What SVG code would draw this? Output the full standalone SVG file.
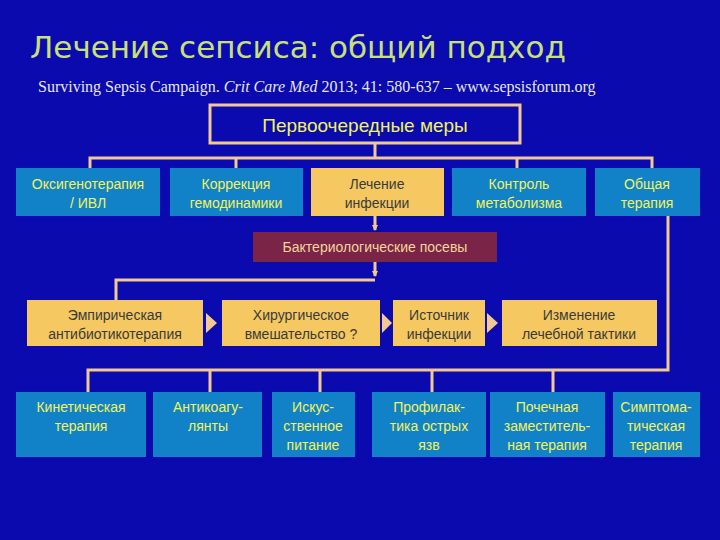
<svg xmlns="http://www.w3.org/2000/svg" width="720" height="540" viewBox="0 0 720 540">
<style>
.b{fill:#1282c8}
.o{fill:#f5c862}
.t{font-family:"Liberation Sans",Arial,sans-serif;font-size:14px;text-anchor:middle}
.y{fill:#f2f25a}
.d{fill:#3a3a3a}
.c{stroke:#f2c894;stroke-width:3;fill:none}
</style>
<defs><marker id="a" markerWidth="6" markerHeight="6" refX="5" refY="3" orient="auto" markerUnits="userSpaceOnUse" viewBox="0 0 6 6"><path d="M0,0L6,3L0,6z" fill="#f2c894"/></marker></defs>
<rect width="720" height="540" fill="#0a0aae"/>
<text x="30" y="58" font-family="'DejaVu Sans',sans-serif" font-size="31" fill="#c9e07a">Лечение сепсиса: общий подход</text>
<text x="38" y="92" font-family="'Liberation Serif',serif" font-size="16" fill="#e6e6e6">Surviving Sepsis Campaign. <tspan font-style="italic">Crit Care Med</tspan> 2013; 41: 580-637 – www.sepsisforum.org</text>
<g id="edges">
<path class="c" d="M375,143V158M90,168V158H652V168M236,158V168M517,158V168"/>
<path class="c" d="M375,216V230" marker-end="url(#a)"/>
<path class="c" d="M375,262V276" marker-end="url(#a)"/>
<path class="c" d="M375,280H116V300"/>
<path class="c" d="M668,216V370H88V392M210,370V392M320,370V392M432,370V392M553,370V392"/>
<g fill="#f2c894"><path d="M206,313L217,323L206,333z"/><path d="M382,313L392,323L382,333z"/><path d="M487,313L498,323L487,333z"/></g>
</g>
<g id="top"><rect x="210" y="105" width="310" height="38" fill="#0a0aae" stroke="#f2c894" stroke-width="3"/><text class="t y" x="365" y="132" style="font-size:19px">Первоочередные меры</text></g>
<g id="r1a"><rect class="b" x="16" y="168" width="144" height="48"/><text class="t y" x="88" y="189">Оксигенотерапия</text><text class="t y" x="88" y="208">/ ИВЛ</text></g>
<g id="r1b"><rect class="b" x="170" y="168" width="133" height="48"/><text class="t y" x="236" y="189">Коррекция</text><text class="t y" x="236" y="208">гемодинамики</text></g>
<g id="r1c"><rect class="o" x="311" y="168" width="133" height="48"/><text class="t d" x="377" y="189">Лечение</text><text class="t d" x="377" y="208">инфекции</text></g>
<g id="r1d"><rect class="b" x="452" y="168" width="134" height="48"/><text class="t y" x="519" y="189">Контроль</text><text class="t y" x="519" y="208">метаболизма</text></g>
<g id="r1e"><rect class="b" x="595" y="168" width="105" height="48"/><text class="t y" x="647" y="189">Общая</text><text class="t y" x="647" y="208">терапия</text></g>
<g id="bact"><rect x="253" y="232" width="244" height="30" fill="#7a2448"/><text class="t" fill="#f5d49a" x="375" y="252">Бактериологические посевы</text></g>
<g id="r2a"><rect class="o" x="27" y="300" width="176" height="46"/><text class="t d" x="115" y="320">Эмпирическая</text><text class="t d" x="115" y="339">антибиотикотерапия</text></g>
<g id="r2b"><rect class="o" x="222" y="300" width="158" height="46"/><text class="t d" x="301" y="320">Хирургическое</text><text class="t d" x="301" y="339">вмешательство ?</text></g>
<g id="r2c"><rect class="o" x="393" y="300" width="92" height="46"/><text class="t d" x="439" y="320">Источник</text><text class="t d" x="439" y="339">инфекции</text></g>
<g id="r2d"><rect class="o" x="502" y="300" width="155" height="46"/><text class="t d" x="579" y="320">Изменение</text><text class="t d" x="579" y="339">лечебной тактики</text></g>
<g id="r3a"><rect class="b" x="16" y="392" width="130" height="65"/><text class="t y" x="81" y="412">Кинетическая</text><text class="t y" x="81" y="431">терапия</text></g>
<g id="r3b"><rect class="b" x="153" y="392" width="109" height="65"/><text class="t y" x="208" y="412">Антикоагу-</text><text class="t y" x="208" y="431">лянты</text></g>
<g id="r3c"><rect class="b" x="272" y="392" width="83" height="65"/><text class="t y" x="313" y="412">Искус-</text><text class="t y" x="313" y="431">ственное</text><text class="t y" x="313" y="450">питание</text></g>
<g id="r3d"><rect class="b" x="372" y="392" width="114" height="65"/><text class="t y" x="429" y="412">Профилак-</text><text class="t y" x="429" y="431">тика острых</text><text class="t y" x="429" y="450">язв</text></g>
<g id="r3e"><rect class="b" x="490" y="392" width="115" height="65"/><text class="t y" x="547" y="412">Почечная</text><text class="t y" x="547" y="431">заместитель-</text><text class="t y" x="547" y="450">ная терапия</text></g>
<g id="r3f"><rect class="b" x="613" y="392" width="87" height="65"/><text class="t y" x="656" y="412">Симптома-</text><text class="t y" x="656" y="431">тическая</text><text class="t y" x="656" y="450">терапия</text></g>
</svg>
